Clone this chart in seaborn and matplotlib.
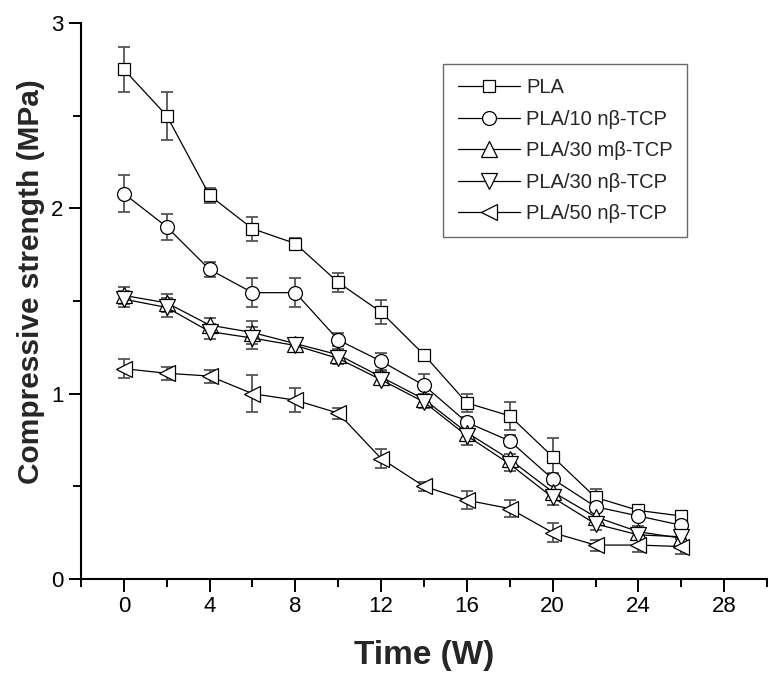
import numpy as np
import pandas as pd
import matplotlib
matplotlib.use("Agg")
import matplotlib.pyplot as plt
from matplotlib.ticker import MultipleLocator
import seaborn as sns

# weeks of degradation
time_w = [0, 2, 4, 6, 8, 10, 12, 14, 16, 18, 20, 22, 24, 26]

pla = [2.75, 2.50, 2.07, 1.89, 1.81, 1.60, 1.44, 1.21, 0.95, 0.88, 0.66, 0.44, 0.37, 0.34]
pla_err = [0.12, 0.13, 0.04, 0.065, 0.03, 0.05, 0.065, 0.02, 0.05, 0.075, 0.10, 0.045, 0.02, 0.02]

pla10n = [2.08, 1.90, 1.67, 1.545, 1.545, 1.29, 1.175, 1.045, 0.845, 0.745, 0.54, 0.39, 0.34, 0.29]
pla10n_err = [0.10, 0.07, 0.04, 0.08, 0.08, 0.035, 0.045, 0.06, 0.03, 0.03, 0.03, 0.03, 0.02, 0.03]

pla30m = [1.53, 1.49, 1.37, 1.33, 1.27, 1.21, 1.09, 0.97, 0.79, 0.645, 0.47, 0.335, 0.255, 0.22]
pla30m_err = [0.045, 0.05, 0.04, 0.06, 0.03, 0.03, 0.03, 0.03, 0.04, 0.03, 0.04, 0.03, 0.03, 0.03]

pla30n = [1.51, 1.465, 1.335, 1.30, 1.26, 1.19, 1.075, 0.955, 0.773, 0.62, 0.44, 0.297, 0.238, 0.228]
pla30n_err = [0.045, 0.05, 0.04, 0.06, 0.03, 0.03, 0.03, 0.03, 0.05, 0.04, 0.04, 0.03, 0.03, 0.03]

pla50n = [1.135, 1.11, 1.095, 1.00, 0.965, 0.895, 0.65, 0.50, 0.425, 0.38, 0.25, 0.183, 0.183, 0.175]
pla50n_err = [0.05, 0.035, 0.035, 0.10, 0.065, 0.03, 0.05, 0.025, 0.05, 0.045, 0.05, 0.03, 0.035, 0.04]

labels = ["PLA", "PLA/10 nβ-TCP", "PLA/30 mβ-TCP", "PLA/30 nβ-TCP", "PLA/50 nβ-TCP"]

sns.set_style("ticks")
plt.rcParams['font.family'] = ['Liberation Sans', 'DejaVu Sans']

fig = plt.figure(figsize=(7.83, 6.81), dpi=100)
ax = fig.add_axes([0.1034, 0.1498, 0.8762, 0.8164])

series = [
    (pla, pla_err, 's', 9),
    (pla10n, pla10n_err, 'o', 10),
    (pla30m, pla30m_err, '^', 11),
    (pla30n, pla30n_err, 'v', 11),
    (pla50n, pla50n_err, '<', 11),
]

for name, (vals, err, mk, ms) in zip(labels, series):
    ax.errorbar(time_w, vals, yerr=err, fmt='none', ecolor='#555555',
                elinewidth=1.3, capsize=4.5, capthick=1.3, zorder=2)
    sns.lineplot(x=time_w, y=vals, ax=ax, color='black', linewidth=0.9,
                 marker=mk, markersize=ms, markerfacecolor='white',
                 markeredgecolor='black', markeredgewidth=0.9,
                 label=name, zorder=3)

ax.set_xlim(-2, 30)
ax.set_ylim(0, 3)
ax.xaxis.set_major_locator(MultipleLocator(4))
ax.xaxis.set_minor_locator(MultipleLocator(2))
ax.yaxis.set_major_locator(MultipleLocator(1))
ax.yaxis.set_minor_locator(MultipleLocator(0.5))
ax.tick_params(which='major', direction='out', length=9, width=1.4,
               labelsize=16, color='black', labelcolor='black')
ax.tick_params(which='minor', direction='out', length=6, width=1.4, color='black')
ax.set_xticks(np.arange(0, 29, 4))

sns.despine(ax=ax)
for sp in ['left', 'bottom']:
    ax.spines[sp].set_linewidth(1.5)
    ax.spines[sp].set_color('black')

ax.set_xlabel("Time (W)", fontsize=24, fontweight='bold', labelpad=16)
ax.set_ylabel("Compressive strength (MPa)", fontsize=21.5, fontweight='bold')
ax.yaxis.set_label_coords(-0.053, 0.535)

leg = ax.legend(loc='upper right', bbox_to_anchor=(0.883, 0.926), borderaxespad=0,
                fontsize=14.5, handlelength=3.1, labelspacing=0.62,
                fancybox=False, frameon=True, edgecolor='#444444',
                borderpad=0.7, handletextpad=0.3)
leg.get_frame().set_linewidth(1.0)

fig.savefig("out.png", dpi=100)
